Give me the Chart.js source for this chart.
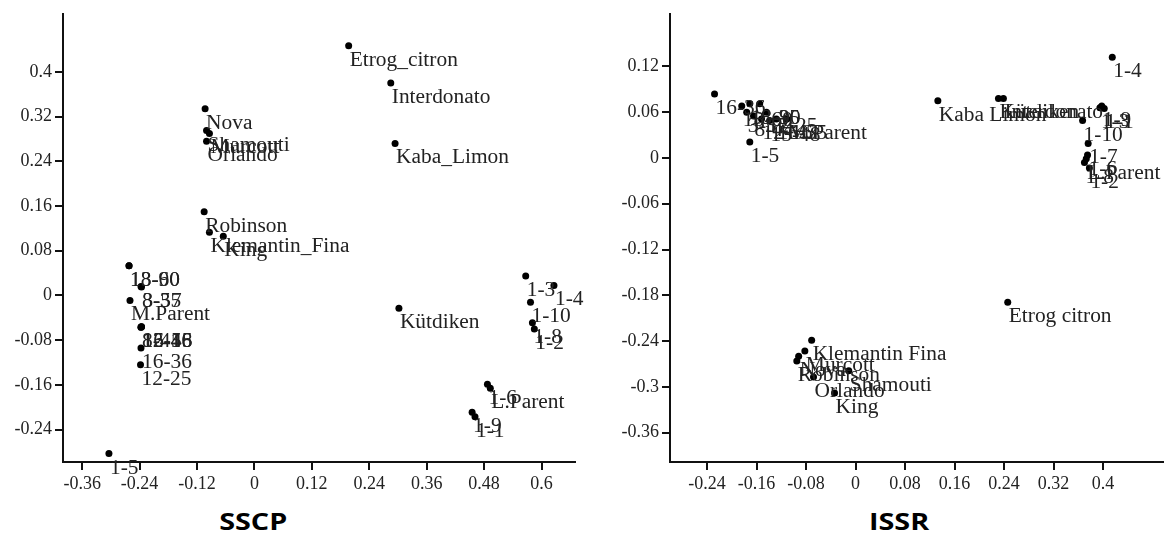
<!DOCTYPE html>
<html>
<head>
<meta charset="utf-8">
<script src="https://cdn.jsdelivr.net/npm/chart.js@4"></script>
<style>
  body { margin:0; background:#fff; width:1167px; height:546px; position:relative; overflow:hidden; }
  canvas { position:absolute; top:0; }
  .ttl { position:absolute; top:505px; font-family:'Open Sans',sans-serif; font-weight:bold; font-size:23px; color:#000; transform:scaleX(1.25); }
</style>
</head>
<body>
<canvas id="sscp" width="600" height="500" style="left:0"></canvas>
<canvas id="issr" width="582" height="500" style="left:585px"></canvas>
<div class="ttl" style="left:226px">SSCP</div>
<div class="ttl" style="left:875px">ISSR</div>
<script>
// SSCP scores
const sscpNames = ['Etrog_citron','Interdonato','Kaba_Limon','Nova','Shamouti','Murcott','Orlando','Robinson','Klemantin_Fina','King',
  '18-60','13-90','8-35','3-57','M.Parent','8-44','12-16','15-48','16-55','16-36','12-25','1-5',
  '1-3','1-4','1-10','1-8','1-2','1-6','L.Parent','1-9','1-1','Kütdiken'];
const sscpX = [0.197,0.285,0.294,-0.103,-0.100,-0.094,-0.100,-0.105,-0.094,-0.065,
  -0.262,-0.262,-0.237,-0.236,-0.260,-0.237,-0.237,-0.236,-0.236,-0.237,-0.238,-0.304,
  0.567,0.626,0.577,0.581,0.585,0.487,0.493,0.455,0.461,0.302];
const sscpY = [0.447,0.380,0.272,0.334,0.295,0.290,0.276,0.150,0.113,0.106,
  0.053,0.053,0.016,0.015,-0.009,-0.057,-0.057,-0.056,-0.056,-0.094,-0.124,-0.283,
  0.035,0.018,-0.012,-0.049,-0.060,-0.159,-0.166,-0.209,-0.217,-0.023];
const sscpXTicks = [-0.36,-0.24,-0.12,0,0.12,0.24,0.36,0.48,0.6];
const sscpXTickLabels = ['-0.36','-0.24','-0.12','0','0.12','0.24','0.36','0.48','0.6'];
const sscpYTicks = [-0.24,-0.16,-0.08,0,0.08,0.16,0.24,0.32,0.4];
const sscpYTickLabels = ['-0.24','-0.16','-0.08','0','0.08','0.16','0.24','0.32','0.4'];

// ISSR scores
const issrNames = ['1-4','Kaba Limon','Kütdiken','Interdonato','1-9','1-1','1-3','1-10','1-7','1-8','L.Parent','1-6','1-2','Etrog citron',
  '16-36','18-60','13-90','8-35','3-57','8-44','12-16','15-48','16-55','M.Parent','12-25','1-5',
  'Klemantin Fina','Murcott','Nova','Robinson','Shamouti','Orlando','King'];
const issrX = [0.415,0.133,0.231,0.239,0.398,0.402,0.395,0.367,0.376,0.370,0.373,0.375,0.378,0.246,
  -0.228,-0.184,-0.171,-0.155,-0.176,-0.165,-0.152,-0.139,-0.128,-0.111,-0.144,-0.171,
  -0.071,-0.082,-0.092,-0.095,-0.011,-0.068,-0.034];
const issrY = [0.132,0.075,0.078,0.078,0.068,0.065,0.066,0.049,0.019,-0.006,-0.001,0.004,-0.013,-0.189,
  0.084,0.068,0.071,0.071,0.060,0.055,0.051,0.049,0.051,0.051,0.060,0.021,
  -0.239,-0.253,-0.260,-0.266,-0.279,-0.287,-0.308];
const issrXTicks = [-0.24,-0.16,-0.08,0,0.08,0.16,0.24,0.32,0.4];
const issrXTickLabels = ['-0.24','-0.16','-0.08','0','0.08','0.16','0.24','0.32','0.4'];
const issrYTicks = [-0.36,-0.3,-0.24,-0.18,-0.12,-0.06,0,0.06,0.12];
const issrYTickLabels = ['-0.36','-0.3','-0.24','-0.18','-0.12','-0.06','0','0.06','0.12'];

const pointLabels = {
  id:'pointLabels',
  afterDatasetsDraw(chart){
    const ctx = chart.ctx;
    const names = chart.options.plugins.pointLabels.names;
    ctx.save();
    ctx.font = '20px "Liberation Serif"';
    ctx.fillStyle = '#222';
    ctx.textBaseline = 'alphabetic';
    chart.getDatasetMeta(0).data.forEach((el,i) => {
      ctx.save();
      ctx.translate(el.x+1, el.y+20);
      ctx.scale(1.07,1);
      ctx.fillText(names[i],0,0);
      ctx.restore();
    });
    ctx.restore();
  }
};

function axis(min,max,ticks,labels,fit){
  return {
    type:'linear', min:min, max:max,
    afterBuildTicks: s => { s.ticks = ticks.map(v => ({value:v})); },
    afterFit: fit,
    border:{display:true, color:'#111', width:2},
    grid:{drawOnChartArea:false, drawTicks:true, tickLength:8, color:'#111', lineWidth:2},
    ticks:{
      color:'#222', font:{family:'Liberation Serif', size:18}, padding:3,
      maxRotation:0, autoSkip:false,
      callback: (v) => labels[ticks.findIndex(t => Math.abs(t-v)<1e-9)]
    }
  };
}

function makeChart(id,names,xs,ys,xr,yr,yw,padRight){
  new Chart(id,{
    type:'scatter',
    data:{datasets:[{
      data: xs.map((x,i) => ({x:x, y:ys[i]})),
      pointRadius:3.5, pointBackgroundColor:'#000', pointBorderWidth:0, pointHoverRadius:3.5
    }]},
    options:{
      responsive:false, animation:false, devicePixelRatio:1,
      layout:{padding:{top:8, right:padRight, left:0, bottom:0}},
      plugins:{legend:{display:false}, tooltip:{enabled:false}, pointLabels:{names:names}},
      scales:{
        x: axis(xr[0],xr[1],xr[2],xr[3], s => { s.height = 38; }),
        y: axis(yr[0],yr[1],yr[2],yr[3], s => { s.width = yw; })
      }
    },
    plugins:[pointLabels]
  });
}

makeChart('sscp',sscpNames,sscpX,sscpY,
  [-0.40,0.67,sscpXTicks,sscpXTickLabels],[-0.298,0.504,sscpYTicks,sscpYTickLabels],63,25);
makeChart('issr',issrNames,issrX,issrY,
  [-0.30,0.497,issrXTicks,issrXTickLabels],[-0.3985,0.189,issrYTicks,issrYTickLabels],85,4);
</script>
</body>
</html>
